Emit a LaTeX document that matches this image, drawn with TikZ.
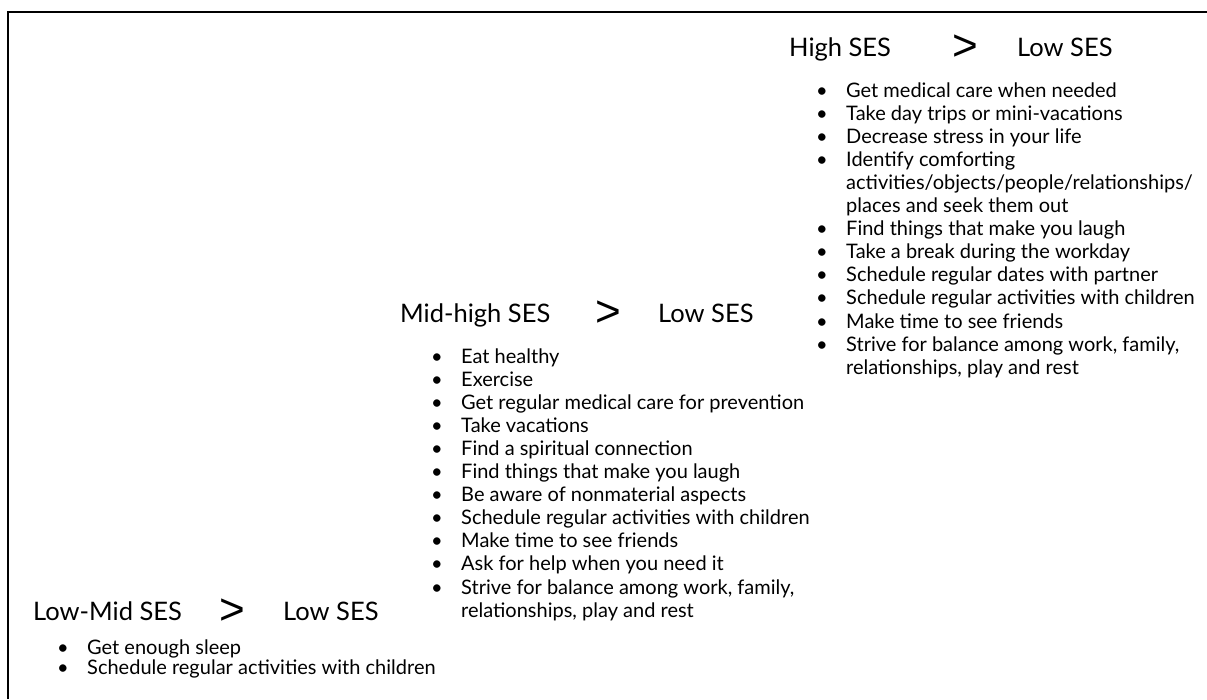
\documentclass[tikz,border=0pt]{standalone}
\usepackage{fontspec}
\setmainfont{Lato}
\newfontfamily\gtfont{Liberation Sans}
\newcommand{\itm}{\makebox[30pt][l]{\textbullet}}
\newcommand{\ctd}{\makebox[30pt]{}}
\tikzset{
  sestitle/.style={anchor=base west, inner sep=0pt, font=\fontsize{25.5}{30}\selectfont},
  sesgt/.style={anchor=center, inner sep=0pt, font=\gtfont\fontsize{44}{46}\selectfont},
  seslist/.style={anchor=base west, inner sep=0pt, align=left, font=\fontsize{20}{23.1}\selectfont},
}
\begin{document}
\begin{tikzpicture}[x=1pt,y=-1pt]
        \useasboundingbox (0,0) rectangle (1207,699);
        % Rahmen
        \draw [line width=2pt] (8,699) -- (8,12) -- (1207,12);
        % High SES
        \node [sestitle] (high) at (789,56) {High SES};
        \node [sesgt] (highgt) at (965,48) {>};
        \node [sestitle] (highlow) at (1017,56) {Low SES};
        \node [seslist] (highlist) at (816,97) {\begin{tabular}[t]{@{}l@{}}
            \itm Get medical care when needed\\
            \itm Take day trips or mini-vacations\\
            \itm Decrease stress in your life\\
            \itm Identify comforting\\
            \ctd activities/objects/people/relationships/\\
            \ctd places and seek them out\\
            \itm Find things that make you laugh\\
            \itm Take a break during the workday\\
            \itm Schedule regular dates with partner\\
            \itm Schedule regular activities with children\\
            \itm Make time to see friends\\
            \itm Strive for balance among work, family,\\
            \ctd relationships, play and rest
        \end{tabular}};
        % Mid-high SES
        \node [sestitle] (mid) at (400,322) {Mid-high SES};
        \node [sesgt] (midgt) at (608,314) {>};
        \node [sestitle] (midlow) at (658,322) {Low SES};
        \node [seslist] (midlist) at (431,363) {\begin{tabular}[t]{@{}l@{}}
            \itm Eat healthy\\
            \itm Exercise\\
            \itm Get regular medical care for prevention\\
            \itm Take vacations\\
            \itm Find a spiritual connection\\
            \itm Find things that make you laugh\\
            \itm Be aware of nonmaterial aspects\\
            \itm Schedule regular activities with children\\
            \itm Make time to see friends\\
            \itm Ask for help when you need it\\
            \itm Strive for balance among work, family,\\
            \ctd relationships, play and rest
        \end{tabular}};
        % Low-Mid SES
        \node [sestitle] (low) at (33,620) {Low-Mid SES};
        \node [sesgt] (lowgt) at (232,612) {>};
        \node [sestitle] (lowlow) at (283,620) {Low SES};
        \node [seslist, font=\fontsize{20}{20.5}\selectfont] (lowlist) at (57,654) {\begin{tabular}[t]{@{}l@{}}
            \itm Get enough sleep\\
            \itm Schedule regular activities with children
        \end{tabular}};
\end{tikzpicture}
\end{document}
